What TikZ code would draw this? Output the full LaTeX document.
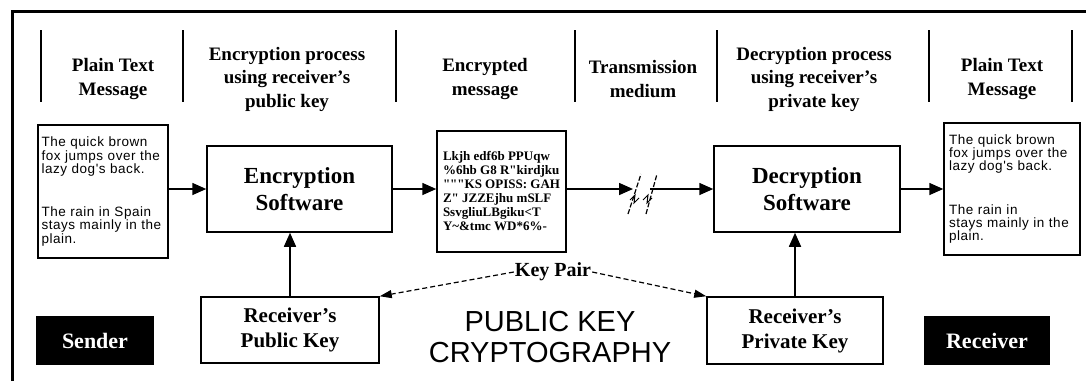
\documentclass[tikz,border=0pt]{standalone}
\usepackage{fontspec}
\setmainfont{Liberation Serif}
\setsansfont{Liberation Sans}
\newfontfamily\plainfont[LetterSpace=4]{Liberation Sans}
\usetikzlibrary{arrows.meta,calc}

\begin{document}
\begin{tikzpicture}[x=1pt,y=-1pt,
  titulo/.style={font=\bfseries\fontsize{19}{23.5}\selectfont, align=center, inner sep=0pt},
  caja/.style={draw, line width=1.5pt, align=center, inner sep=0pt, font=\bfseries\fontsize{23}{27}\selectfont},
  texto/.style={draw, line width=1.5pt, align=left, inner ysep=0pt, font=\plainfont\fontsize{13.5}{13.3}\selectfont},
  negra/.style={fill=black, text=white, inner sep=0pt, font=\bfseries\fontsize{22}{26}\selectfont},
  flecha/.style={line width=1.6pt, -{Triangle[length=14pt,width=12pt]}},
  parllave/.style={line width=1.2pt, dash pattern=on 5pt off 3pt, -{Triangle[length=12pt,width=8pt]}}]
\useasboundingbox (0,0) rectangle (1086,381);
% Marco
\draw[line width=3pt] (12,381) -- (12,11) -- (1086,11);
% Separadores de columnas
\foreach \x in {41,183,396,575,717,929,1072}
  \draw[line width=1.5pt] (\x,30) -- (\x,102);
% Titulos de columnas
\node[titulo] (h1) at (113,79) {Plain Text\\Message};
\node[titulo] (h2) at (287,79) {Encryption process\\using receiver's\\public key};
\node[titulo] (h3) at (485,79) {Encrypted\\message};
\node[titulo] (h4) at (643,79) {Transmission\\medium};
\node[titulo] (h5) at (814,79) {Decryption process\\using receiver's\\private key};
\node[titulo] (h6) at (1002,79) {Plain Text\\Message};
% Mensaje original
\node[texto, text width=123pt, inner xsep=3.5pt, minimum height=133pt] (plainl) at (103,191.5)
  {The quick brown\\fox jumps over the\\lazy dog's back.\\[30pt]The rain in Spain\\stays mainly in the\\plain.};
% Cifrado
\node[caja, minimum width=185pt, minimum height=86pt] (encsoft) at (299.5,189) {Encryption\\Software};
% Mensaje cifrado
\node[draw, line width=1.5pt, align=left, inner sep=0pt, minimum width=129pt, minimum height=121pt,
  font=\bfseries\fontsize{13}{14}\selectfont] (encmsg) at (501.5,191.5)
  {Lkjh edf6b PPUqw\\\%6hb G8 R\textquotedbl kirdjku\\\textquotedbl\textquotedbl\textquotedbl KS OPISS: GAH\\Z\textquotedbl{} JZZEjhu mSLF\\SsvgliuLBgiku<T\\Y\textasciitilde\&tmc WD*6\%-};
% Descifrado
\node[caja, minimum width=186pt, minimum height=86pt] (decsoft) at (807,189) {Decryption\\Software};
% Mensaje recuperado
\node[texto, text width=126pt, inner xsep=5pt, minimum height=132pt] (plainr) at (1012,189)
  {The quick brown\\fox jumps over the\\lazy dog's back.\\[30pt]The rain in\\stays mainly in the\\plain.};
% Llaves
\node[caja, minimum width=178pt, minimum height=66pt, font=\bfseries\fontsize{21}{25}\selectfont] (pubkey) at (290,330) {Receiver's\\Public Key};
\node[caja, minimum width=176pt, minimum height=67pt, font=\bfseries\fontsize{21}{25}\selectfont] (privkey) at (795,330.5) {Receiver's\\Private Key};
% Emisor y receptor
\node[negra, minimum width=118pt, minimum height=49pt] (sender) at (95,340.5) {Sender};
\node[negra, minimum width=126pt, minimum height=49pt] (receiver) at (987,340.5) {Receiver};
% Titulo central
\node[font=\sffamily\fontsize{29}{31}\selectfont, align=center, inner sep=0pt] (pkc) at (550,337) {PUBLIC KEY\\CRYPTOGRAPHY};
% Par de llaves
\node[font=\bfseries\fontsize{20}{24}\selectfont, inner sep=1pt] (llaves) at (553,272) {Key Pair};
\draw[parllave] (llaves.west) -- (pubkey.north east);
\draw[parllave] (llaves.east) -- (privkey.north west);
% Flujo del mensaje
\draw[flecha] (encsoft.west -| plainl.east) -- (encsoft.west);
\draw[flecha] (encsoft.east) -- (encsoft.east -| encmsg.west);
\coordinate (cut1) at (633,189);
\coordinate (cut2) at (650,189);
\draw[flecha] (encsoft.east -| encmsg.east) -- (cut1);
\draw[flecha] (cut2) -- (decsoft.west);
\draw[flecha] (decsoft.east) -- (decsoft.east -| plainr.west);
% Medio interrumpido
\draw[line width=1.2pt, dash pattern=on 5pt off 2pt] (628,214) -- (641,174);
\draw[line width=1.2pt, dash pattern=on 5pt off 2pt] (646,214) -- (657,174);
\draw[line width=1pt] (630,200) -- (635,195) -- (634,203) -- (639,198);
\draw[line width=1pt] (643,200) -- (648,195) -- (647,203) -- (652,198);
% Llaves hacia el software
\draw[flecha] (pubkey.north) -- (pubkey.north |- encsoft.south);
\draw[flecha] (privkey.north) -- (privkey.north |- decsoft.south);
\end{tikzpicture}
\end{document}
